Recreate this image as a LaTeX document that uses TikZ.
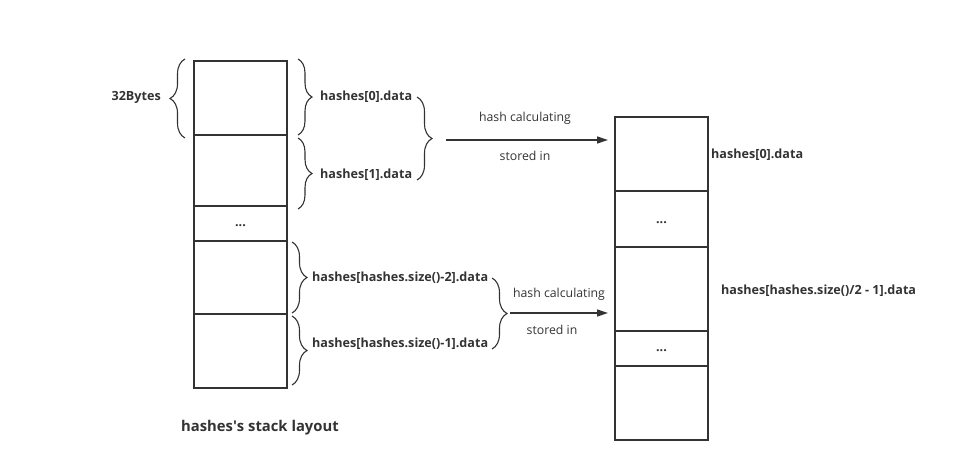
\documentclass[tikz,border=0pt]{standalone}
\usepackage{fontspec}
\setmainfont{Open Sans}
\usetikzlibrary{decorations.pathreplacing,arrows.meta}
\definecolor{ink}{HTML}{333333}
\begin{document}
\begin{tikzpicture}[x=1pt,y=-1pt,
  cell/.style={draw=ink,line width=1.3pt,inner sep=0pt,outer sep=0pt,minimum width=93pt},
  dots/.style={text=ink,font=\fontsize{12.6}{14}\selectfont\bfseries,inner sep=0pt},
  lbl/.style={text=ink,font=\fontsize{12.6}{14}\selectfont\bfseries,inner sep=0pt},
  note/.style={text=ink,font=\fontsize{12.3}{14}\selectfont,inner sep=0pt},
  brc/.style={draw=ink,line width=1.1pt,decorate,decoration={brace,amplitude=#1}},
  arr/.style={draw=ink,line width=1.3pt,-{Triangle[length=11pt,width=7pt]}}]
\useasboundingbox (0,0) rectangle (980,450);
% left stack
\node[cell,minimum height=74pt] (L1) at (240.5,98) {};
\node[cell,minimum height=71pt] (L2) at (240.5,170.5) {};
\node[cell,minimum height=35pt] (L3) at (240.5,223.5) {};
\node[dots] (L3d) at (240.5,226) {...};
\node[cell,minimum height=73pt] (L4) at (240.5,277.5) {};
\node[cell,minimum height=74pt] (L5) at (240.5,351) {};
% right stack
\node[cell,minimum height=74pt] (R1) at (661.5,154) {};
\node[cell,minimum height=56pt] (R2) at (661.5,219) {};
\node[dots] (R2d) at (661.5,223) {...};
\node[cell,minimum height=84pt] (R3) at (661.5,289) {};
\node[cell,minimum height=35pt] (R4) at (661.5,348.5) {};
\node[dots] (R4d) at (661.5,351) {...};
\node[cell,minimum height=74pt] (R5) at (661.5,403) {};
% 32Bytes brace
\draw[brc=15pt] (185,138) -- (185,59);
\node[lbl,anchor=east] (bytes) at (161,97) {32Bytes};
% upper braces
\draw[brc=14pt] (298,59) -- (298,135);
\node[lbl,anchor=west] (h0) at (320,97) {hashes[0].data};
\draw[brc=14pt] (298,138) -- (298,209);
\node[lbl,anchor=west] (h1) at (320,175) {hashes[1].data};
\draw[brc=15pt] (417,97) -- (417,180);
\coordinate (t1) at (446,140);
\draw[arr] (t1) -- (R1.west |- t1) [shorten >=7pt];
\node[note] (hc1) at (525,118) {hash calculating};
\node[note] (si1) at (525,156) {stored in};
% lower braces
\draw[brc=15pt] (292,242) -- (292,313);
\node[lbl,anchor=west] (hn2) at (312,278) {hashes[hashes.size()-2].data};
\draw[brc=15pt] (292,316) -- (292,385);
\node[lbl,anchor=west] (hn1) at (312,344) {hashes[hashes.size()-1].data};
\draw[brc=15pt] (492,278) -- (492,349);
\coordinate (t2) at (510,313);
\draw[arr] (t2) -- (R3.west |- t2) [shorten >=7pt];
\node[note] (hc2) at (559,294) {hash calculating};
\node[note] (si2) at (552,330) {stored in};
% right labels
\node[lbl,anchor=west] (r0) at (711,155) {hashes[0].data};
\node[lbl,anchor=west] (rmid) at (721,291) {hashes[hashes.size()/2 - 1].data};
% caption
\node[lbl,anchor=west,font=\fontsize{14.8}{17}\selectfont\bfseries] (cap) at (181,428) {hashes\textquotesingle s stack layout};
\end{tikzpicture}
\end{document}
